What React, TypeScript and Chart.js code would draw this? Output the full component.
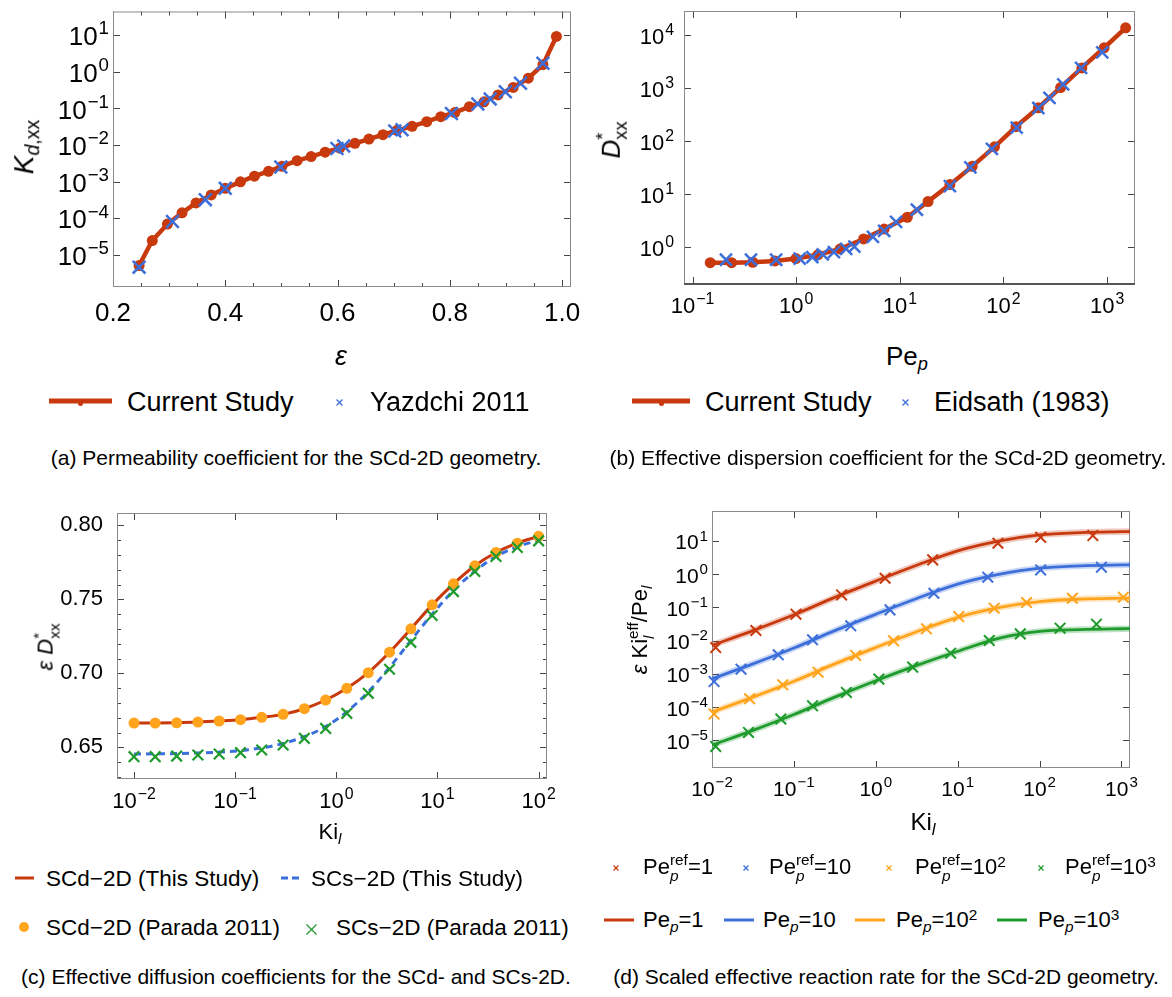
import React, { useEffect, useRef } from 'react';
import { Chart, registerables } from 'chart.js';
Chart.register(...registerables);

const FONT = "'Liberation Sans', Arial, Helvetica, sans-serif";
const RED = '#c8390e';
const BLUE = '#3d6fda';
const ORANGE = '#ffa41c';
const GREEN = '#1f9a2c';
const FRAME = '#8a8a8a';
const TICKC = '#444444';
const TEXT = '#000000';

// ---------------- (a) permeability ----------------
const A_EPS = [0.2465, 0.270, 0.297, 0.323, 0.348, 0.375, 0.400, 0.427, 0.452, 0.477, 0.501, 0.528, 0.553, 0.578, 0.604, 0.631, 0.656, 0.681, 0.706, 0.733, 0.759, 0.784, 0.809, 0.835, 0.861, 0.886, 0.913, 0.940, 0.966, 0.990];
const A_K = [5.1e-6, 2.45e-5, 6.9e-5, 1.4e-4, 2.6e-4, 4.3e-4, 6.5e-4, 9.8e-4, 1.4e-3, 1.9e-3, 2.6e-3, 3.7e-3, 4.8e-3, 6.3e-3, 8.1e-3, 1.1e-2, 1.44e-2, 1.9e-2, 2.5e-2, 3.2e-2, 4.3e-2, 5.9e-2, 7.6e-2, 0.11, 0.15, 0.23, 0.37, 0.66, 1.55, 9.1];
const A_REF_EPS = [0.2465, 0.306, 0.3645, 0.400, 0.499, 0.599, 0.611, 0.702, 0.715, 0.803, 0.850, 0.872, 0.899, 0.926, 0.966];
const A_REF_K = [4.6e-6, 8.1e-5, 3.2e-4, 6.5e-4, 2.5e-3, 8.0e-3, 9.3e-3, 2.4e-2, 2.6e-2, 7.2e-2, 0.13, 0.18, 0.28, 0.48, 1.7];
const A_X_TICKS = [0.2, 0.4, 0.6, 0.8, 1.0];
const A_X_LABELS = ['0.2', '0.4', '0.6', '0.8', '1.0'];
const A_Y_EXP = [-5, -4, -3, -2, -1, 0, 1];

// ---------------- (b) dispersion ----------------
const B_PE = [0.148, 0.238, 0.381, 0.625, 0.993, 1.62, 2.65, 4.47, 7.05, 11.8, 18.7, 30.4, 49.9, 81.9, 132, 217, 356, 570, 936, 1510];
const B_D = [0.51, 0.51, 0.52, 0.55, 0.61, 0.72, 0.93, 1.43, 2.2, 3.68, 7.3, 15.2, 33.6, 78.5, 189, 430, 1035, 2430, 5830, 13900];
const B_REF_PE = [0.21, 0.366, 0.64, 1.08, 1.43, 1.8, 2.31, 3.03, 3.64, 5.5, 7.05, 9.2, 14.6, 30.4, 47.9, 77.3, 134, 217, 278, 377, 561, 898];
const B_REF_D = [0.58, 0.58, 0.58, 0.61, 0.65, 0.73, 0.81, 0.93, 1.03, 1.57, 2.03, 3.02, 5.1, 14.2, 32.2, 72, 181, 425, 658, 1190, 2430, 4790];
const B_X_EXP = [-1, 0, 1, 2, 3];
const B_Y_EXP = [0, 1, 2, 3, 4];

// ---------------- (c) diffusion ----------------
const C_KI = [0.01, 0.0162, 0.0264, 0.0428, 0.0695, 0.113, 0.183, 0.298, 0.483, 0.785, 1.27, 2.07, 3.36, 5.46, 8.86, 14.4, 23.4, 37.9, 61.6, 100];
const C_SCD = [0.6664, 0.6665, 0.6667, 0.6671, 0.6678, 0.6687, 0.6703, 0.6723, 0.6761, 0.6820, 0.6899, 0.7005, 0.7143, 0.7301, 0.7463, 0.7605, 0.7727, 0.7817, 0.7880, 0.7926];
const C_SCD_REF = [0.6664, 0.6664, 0.6666, 0.6671, 0.6678, 0.6687, 0.6703, 0.6723, 0.6761, 0.6820, 0.6899, 0.7005, 0.7143, 0.7301, 0.7463, 0.7605, 0.7727, 0.7817, 0.7880, 0.7926];
const C_SCS = [0.6455, 0.6456, 0.6458, 0.6462, 0.6468, 0.6478, 0.6496, 0.6526, 0.6572, 0.6640, 0.6740, 0.6875, 0.7040, 0.7222, 0.7400, 0.7560, 0.7690, 0.7790, 0.7855, 0.7900];
const C_SCS_REF = [0.6437, 0.6437, 0.6441, 0.6448, 0.6455, 0.6464, 0.6482, 0.6516, 0.6561, 0.6628, 0.6730, 0.6865, 0.7028, 0.7210, 0.7391, 0.7553, 0.7689, 0.7790, 0.7851, 0.7896];
const C_X_EXP = [-2, -1, 0, 1, 2];
const C_Y_TICKS = [0.65, 0.70, 0.75, 0.80];
const C_Y_LABELS = ['0.65', '0.70', '0.75', '0.80'];

// ---------------- (d) reaction rate ----------------
const D_KI = [0.01, 0.0316, 0.1, 0.316, 1, 3.16, 10, 31.6, 100, 316, 1000, 1270];
const D_L1 = [0.0072, 0.020, 0.060, 0.20, 0.62, 1.85, 5.0, 9.8, 15.1, 17.8, 19.0, 19.2];
const D_L10 = [7.1e-4, 2.0e-3, 6.0e-3, 0.020, 0.062, 0.185, 0.50, 0.98, 1.52, 1.78, 1.90, 1.92];
const D_L100 = [7.1e-5, 2.0e-4, 6.0e-4, 2.0e-3, 6.2e-3, 0.0185, 0.050, 0.098, 0.150, 0.178, 0.190, 0.192];
const D_L1000 = [7.2e-6, 2.0e-5, 6.0e-5, 2.0e-4, 6.2e-4, 1.8e-3, 4.8e-3, 0.0118, 0.019, 0.0215, 0.0228, 0.023];
const D_X1 = [0.0111, 0.0344, 0.106, 0.382, 1.30, 4.95, 31, 103, 447];
const D_Y1 = [0.0062, 0.0202, 0.0625, 0.238, 0.755, 2.69, 8.5, 12.9, 14.5];
const D_X10 = [0.0106, 0.0226, 0.0644, 0.169, 0.495, 1.49, 5.12, 23.3, 103, 569];
const D_Y10 = [5.9e-4, 1.39e-3, 3.75e-3, 0.0106, 0.0279, 0.0843, 0.267, 0.81, 1.34, 1.62];
const D_X100 = [0.0106, 0.0288, 0.0731, 0.197, 0.569, 1.65, 4.15, 10.3, 27.9, 69.3, 251, 1054];
const D_Y100 = [6.2e-5, 1.79e-4, 4.7e-4, 1.13e-3, 3.6e-3, 9.9e-3, 0.0227, 0.0532, 0.095, 0.14, 0.189, 0.203];
const D_X1000 = [0.0111, 0.0279, 0.0693, 0.169, 0.438, 1.09, 2.82, 8.2, 24.3, 58.1, 178, 495];
const D_Y1000 = [6.6e-6, 1.74e-5, 4.4e-5, 1.1e-4, 2.77e-4, 6.97e-4, 1.6e-3, 4.2e-3, 0.0101, 0.016, 0.0238, 0.0313];
const D_X_EXP = [-2, -1, 0, 1, 2, 3];
const D_Y_EXP = [-5, -4, -3, -2, -1, 0, 1];

// ---------------- helpers ----------------
const decades = (exps: number[]) => exps.map((e) => Math.pow(10, e));
const expText = (e: number) => String(e).replace('-', '−');
const pts = (xs: number[], ys: number[]) => xs.map((x, i) => ({ x, y: ys[i] }));

const frameTicksPlugin = {
  id: 'frameTicks',
  beforeDatasetsDraw(chart: any, _a: any, o: any) {
    const { ctx, chartArea: a } = chart;
    const xs = chart.scales.x;
    const ys = chart.scales.y;
    ctx.save();
    ctx.lineWidth = 1;
    ctx.strokeStyle = TICKC;
    const tick = (len: number, vals: number[], horiz: boolean) => {
      ctx.beginPath();
      for (const v of vals) {
        if (horiz) {
          const p = Math.round(xs.getPixelForValue(v)) + 0.5;
          if (p < a.left || p > a.right) continue;
          ctx.moveTo(p, a.bottom);
          ctx.lineTo(p, a.bottom - len);
          ctx.moveTo(p, a.top);
          ctx.lineTo(p, a.top + len);
        } else {
          const p = Math.round(ys.getPixelForValue(v)) + 0.5;
          if (p < a.top || p > a.bottom) continue;
          ctx.moveTo(a.left, p);
          ctx.lineTo(a.left + len, p);
          ctx.moveTo(a.right, p);
          ctx.lineTo(a.right - len, p);
        }
      }
      ctx.stroke();
    };
    tick(o.major, xs.ticks.map((t: any) => t.value), true);
    tick(o.major, ys.ticks.map((t: any) => t.value), false);
    tick(o.minor, o.xMinor || [], true);
    tick(o.minor, o.yMinor || [], false);
    ctx.strokeStyle = FRAME;
    ctx.strokeRect(a.left + 0.5, a.top + 0.5, a.right - a.left - 1, a.bottom - a.top - 1);
    if (o.bottomWidth) {
      ctx.lineWidth = o.bottomWidth;
      ctx.strokeStyle = '#555';
      ctx.beginPath();
      ctx.moveTo(a.left, a.bottom);
      ctx.lineTo(a.right, a.bottom);
      ctx.stroke();
    }
    ctx.restore();
  },
};

// draws "10" with a raised exponent for log-axis ticks, at the scale's tick positions
const powLabelsPlugin = {
  id: 'powLabels',
  afterDraw(chart: any, _a: any, o: any) {
    const { ctx, chartArea: a } = chart;
    ctx.save();
    ctx.fillStyle = TEXT;
    ctx.textAlign = 'left';
    ctx.textBaseline = 'alphabetic';
    for (const key of ['x', 'y']) {
      const spec = o[key];
      if (!spec) continue;
      const sc = chart.scales[key];
      const F = spec.size;
      const f = F * 0.72;
      sc.ticks.forEach((t: any, i: number) => {
        const base = '10';
        const sup = expText(spec.exps[i]);
        ctx.font = `${F}px ${FONT}`;
        const wb = ctx.measureText(base).width;
        ctx.font = `${f}px ${FONT}`;
        const ws = ctx.measureText(sup).width;
        const total = wb + 1 + ws;
        let x0: number;
        let yb: number;
        if (key === 'x') {
          const px = sc.getPixelForValue(t.value);
          x0 = px - total / 2;
          yb = a.bottom + spec.off + F * 0.358;
        } else {
          const py = sc.getPixelForValue(t.value);
          x0 = a.left - spec.pad - total;
          yb = py + F * 0.358 + 1;
        }
        ctx.font = `${F}px ${FONT}`;
        ctx.fillText(base, x0, yb);
        ctx.font = `${f}px ${FONT}`;
        ctx.fillText(sup, x0 + wb + 1, yb - F * 0.42);
      });
    }
    ctx.restore();
  },
};

type AxisSpec = { type: 'linear' | 'logarithmic'; min: number; max: number; ticks: number[]; labels?: string[]; size: number; pad: number; pow?: boolean };

function axis(s: AxisSpec, dir: 'x' | 'y', size: number) {
  return {
    type: s.type,
    min: s.min,
    max: s.max,
    position: dir === 'x' ? 'bottom' : 'left',
    grid: { display: false },
    border: { display: false },
    afterBuildTicks: (sc: any) => {
      sc.ticks = s.ticks.map((v) => ({ value: v }));
    },
    afterFit: (sc: any) => {
      if (dir === 'x') sc.height = size;
      else sc.width = size;
      sc.paddingLeft = 0;
      sc.paddingRight = 0;
      sc.paddingTop = 0;
      sc.paddingBottom = 0;
    },
    ticks: {
      display: !s.pow,
      autoSkip: false,
      maxRotation: 0,
      minRotation: 0,
      padding: s.pad,
      color: TEXT,
      font: { family: FONT, size: s.size },
      callback: (_v: any, i: number) => (s.labels ? s.labels[i] : ''),
    },
  };
}

function makeConfig(datasets: any[], x: AxisSpec, y: AxisSpec, yW: number, xH: number, padding: any, frame: any, pow: any) {
  return {
    type: 'line',
    data: { datasets },
    options: {
      animation: false,
      responsive: false,
      events: [],
      layout: { padding },
      plugins: { legend: { display: false }, tooltip: { enabled: false }, frameTicks: frame, powLabels: pow },
      scales: { x: axis(x, 'x', xH), y: axis(y, 'y', yW) },
    },
    plugins: [frameTicksPlugin, powLabelsPlugin],
  } as any;
}

const marks = (data: any[], color: string, style: string, r: number, bw: number) => ({
  data,
  showLine: false,
  pointStyle: style,
  pointRadius: r,
  pointBorderColor: color,
  pointBackgroundColor: color,
  pointBorderWidth: bw,
  borderColor: color,
  backgroundColor: color,
  clip: false,
});
const curve = (data: any[], color: string, width: number, extra: any = {}) => ({
  data,
  borderColor: color,
  backgroundColor: color,
  borderWidth: width,
  pointRadius: 0,
  fill: false,
  ...extra,
});

// ---------------- configs ----------------
function configA() {
  const minor: number[] = [];
  for (let k = 5; k < 20; k++) if (k % 4 !== 0) minor.push(k * 0.05);
  return makeConfig(
    [
      marks(pts(A_REF_EPS, A_REF_K), BLUE, 'crossRot', 9, 2.5),
      curve(pts(A_EPS, A_K), RED, 4.5, { pointRadius: 5.5, pointBackgroundColor: RED, pointBorderColor: RED, pointBorderWidth: 0, clip: false }),
    ],
    { type: 'linear', min: 0.2, max: 1.016, ticks: A_X_TICKS, labels: A_X_LABELS, size: 26, pad: 3 },
    { type: 'logarithmic', min: 1.32e-6, max: 43.7, ticks: decades(A_Y_EXP), size: 26, pad: 4, pow: true },
    113, 53, { top: 5, right: 29, left: 0, bottom: 0 },
    { major: 7, minor: 4, xMinor: minor },
    { y: { exps: A_Y_EXP, size: 26, pad: 4 } }
  );
}

function configB() {
  return makeConfig(
    [
      marks(pts(B_REF_PE, B_REF_D), BLUE, 'crossRot', 8.5, 2.5),
      curve(pts(B_PE, B_D), RED, 4.5, { pointRadius: 5.5, pointBackgroundColor: RED, pointBorderColor: RED, pointBorderWidth: 0, clip: false }),
    ],
    { type: 'logarithmic', min: 0.0826, max: 1858, ticks: decades(B_X_EXP), size: 22, pad: 3, pow: true },
    { type: 'logarithmic', min: 0.202, max: 28840, ticks: decades(B_Y_EXP), size: 22, pad: 4, pow: true },
    94, 56, { top: 5, right: 37, left: 0, bottom: 0 },
    { major: 7, minor: 4, bottomWidth: 2 },
    { x: { exps: B_X_EXP, size: 22, off: 21 }, y: { exps: B_Y_EXP, size: 22, pad: 10 } }
  );
}

function configC() {
  const yMinor: number[] = [];
  for (let k = 63; k <= 80; k++) if (k % 5 !== 0) yMinor.push(k / 100);
  return makeConfig(
    [
      marks(pts(C_KI, C_SCS_REF), GREEN, 'crossRot', 7.5, 2.2),
      marks(pts(C_KI, C_SCD_REF), ORANGE, 'circle', 5.5, 0),
      curve(pts(C_KI, C_SCS), '#3a6fdc', 3, { borderDash: [7, 5], cubicInterpolationMode: 'monotone' }),
      curve(pts(C_KI, C_SCD), RED, 3, { cubicInterpolationMode: 'monotone' }),
    ],
    { type: 'logarithmic', min: 0.00679, max: 121, ticks: decades(C_X_EXP), size: 22, pad: 3, pow: true },
    { type: 'linear', min: 0.6286, max: 0.8084, ticks: C_Y_TICKS, labels: C_Y_LABELS, size: 22, pad: 6 },
    117, 41, { top: 33, right: 43, left: 0, bottom: 0 },
    { major: 7, minor: 4, yMinor },
    { x: { exps: C_X_EXP, size: 22, off: 21 } }
  );
}

function configD() {
  const halo = (c: string) => c + '45';
  return makeConfig(
    [
      marks(pts(D_X1, D_Y1), RED, 'crossRot', 7.5, 2),
      marks(pts(D_X10, D_Y10), BLUE, 'crossRot', 7.5, 2),
      marks(pts(D_X100, D_Y100), ORANGE, 'crossRot', 7.5, 2),
      marks(pts(D_X1000, D_Y1000), GREEN, 'crossRot', 7.5, 2),
      curve(pts(D_KI, D_L1), RED, 2.8, { cubicInterpolationMode: 'monotone' }),
      curve(pts(D_KI, D_L10), BLUE, 2.8, { cubicInterpolationMode: 'monotone' }),
      curve(pts(D_KI, D_L100), ORANGE, 2.8, { cubicInterpolationMode: 'monotone' }),
      curve(pts(D_KI, D_L1000), GREEN, 2.8, { cubicInterpolationMode: 'monotone' }),
      curve(pts(D_KI, D_L1), halo(RED), 6.5, { cubicInterpolationMode: 'monotone' }),
      curve(pts(D_KI, D_L10), halo(BLUE), 6.5, { cubicInterpolationMode: 'monotone' }),
      curve(pts(D_KI, D_L100), halo(ORANGE), 6.5, { cubicInterpolationMode: 'monotone' }),
      curve(pts(D_KI, D_L1000), halo(GREEN), 6.5, { cubicInterpolationMode: 'monotone' }),
    ],
    { type: 'logarithmic', min: 0.01, max: 1270, ticks: decades(D_X_EXP), size: 21, pad: 2, pow: true },
    { type: 'logarithmic', min: 1.48e-6, max: 79.4, ticks: decades(D_Y_EXP), size: 21, pad: 4, pow: true },
    122, 42, { top: 31, right: 42, left: 0, bottom: 0 },
    { major: 7, minor: 4 },
    { x: { exps: D_X_EXP, size: 21, off: 20 }, y: { exps: D_Y_EXP, size: 21, pad: 4 } }
  );
}

// ---------------- components ----------------
function ChartBox({ make, left, top, width, height }: { make: () => any; left: number; top: number; width: number; height: number }) {
  const ref = useRef<HTMLCanvasElement>(null);
  useEffect(() => {
    const chart = new Chart(ref.current as HTMLCanvasElement, make());
    return () => chart.destroy();
  }, []);
  return (
    <div style={{ position: 'absolute', left, top, width, height }}>
      <canvas ref={ref} width={width} height={height} style={{ width, height, display: 'block' }} />
    </div>
  );
}

const T = ({ x, y, size, rot, children, anchor = 'center' }: any) => (
  <div
    style={{
      position: 'absolute',
      left: x,
      top: y,
      transform: `translate(${anchor === 'left' ? '0' : '-50%'},-50%)${rot ? ' rotate(-90deg)' : ''}`,
      fontSize: size,
      whiteSpace: 'nowrap',
      lineHeight: 1.2,
      color: TEXT,
    }}
  >
    {children}
  </div>
);
const Sub = ({ children }: any) => <span style={{ fontSize: '0.7em', position: 'relative', top: '0.3em' }}>{children}</span>;
const Sup = ({ children }: any) => <span style={{ fontSize: '0.7em', position: 'relative', top: '-0.45em' }}>{children}</span>;
const SupSub = ({ sup, sub }: any) => (
  <span style={{ display: 'inline-block', verticalAlign: 'middle', fontSize: '0.7em', lineHeight: 1, textAlign: 'left', position: 'relative', top: '-0.05em' }}>
    <span style={{ display: 'block' }}>{sup}</span>
    <span style={{ display: 'block' }}>{sub}</span>
  </span>
);
const XIcon = ({ x, y, color, s = 7 }: any) => (
  <svg style={{ position: 'absolute', left: x - s / 2, top: y - s / 2 }} width={s} height={s}>
    <line x1={0.5} y1={0.5} x2={s - 0.5} y2={s - 0.5} stroke={color} strokeWidth={1.3} />
    <line x1={s - 0.5} y1={0.5} x2={0.5} y2={s - 0.5} stroke={color} strokeWidth={1.3} />
  </svg>
);
const LineIcon = ({ x1, x2, y, color, h = 3, dash }: any) => (
  <svg style={{ position: 'absolute', left: x1, top: y - 4 }} width={x2 - x1} height={8}>
    <line x1={0} y1={4} x2={x2 - x1} y2={4} stroke={color} strokeWidth={h} strokeDasharray={dash} />
  </svg>
);
const Dot = ({ x, y, color, r }: any) => (
  <div style={{ position: 'absolute', left: x - r, top: y - r, width: 2 * r, height: 2 * r, borderRadius: '50%', background: color }} />
);

const PeRef = ({ v }: any) => (
  <>
    Pe<SupSub sup="ref" sub={<i>p</i>} />={v}
  </>
);
const PeP = ({ v }: any) => (
  <>
    Pe<Sub><i>p</i></Sub>={v}
  </>
);

export default function App() {
  return (
    <div style={{ position: 'absolute', left: 0, top: 0, width: 1172, height: 997, background: '#fff', overflow: 'hidden', fontFamily: FONT, color: TEXT }}>
      <ChartBox make={configA} left={0} top={0} width={600} height={340} />
      <ChartBox make={configB} left={590} top={0} width={582} height={340} />
      <ChartBox make={configC} left={0} top={480} width={590} height={340} />
      <ChartBox make={configD} left={590} top={480} width={582} height={330} />

      {/* axis titles */}
      <T x={24} y={147} size={28} rot>
        <i>K</i><Sub><i>d</i>,xx</Sub>
      </T>
      <T x={341} y={356} size={27}><i>ε</i></T>
      <T x={613} y={140} size={26} rot>
        <i>D</i><SupSub sup="*" sub="xx" />
      </T>
      <T x={907} y={357} size={26}>
        Pe<Sub><i>p</i></Sub>
      </T>
      <T x={47} y={647} size={22} rot>
        <i>ε</i> <i>D</i><SupSub sup="*" sub="xx" />
      </T>
      <T x={330} y={832} size={22}>
        Ki<Sub><i>l</i></Sub>
      </T>
      <T x={641} y={630} size={22} rot>
        <i>ε</i> Ki<SupSub sup="eff" sub={<i>l</i>} />/Pe<Sub><i>l</i></Sub>
      </T>
      <T x={923} y={822} size={24}>
        Ki<Sub><i>l</i></Sub>
      </T>

      {/* legend a */}
      <LineIcon x1={49} x2={112} y={401} color={RED} h={5} />
      <Dot x={80.5} y={403} color={RED} r={2.5} />
      <T x={127} y={402} size={27} anchor="left">Current Study</T>
      <XIcon x={339} y={402} color={BLUE} />
      <T x={370} y={402} size={27} anchor="left">Yazdchi 2011</T>
      {/* legend b */}
      <LineIcon x1={632} x2={690} y={401} color={RED} h={5} />
      <Dot x={661} y={403} color={RED} r={2.5} />
      <T x={705} y={402} size={27} anchor="left">Current Study</T>
      <XIcon x={905} y={402} color={BLUE} />
      <T x={934} y={402} size={27} anchor="left">Eidsath (1983)</T>

      {/* captions a, b */}
      <T x={296} y={458} size={21}>(a) Permeability coefficient for the SCd-2D geometry.</T>
      <T x={888} y={458} size={21}>(b) Effective dispersion coefficient for the SCd-2D geometry.</T>

      {/* legend c */}
      <LineIcon x1={15} x2={34} y={878} color={RED} h={3} />
      <T x={46} y={878} size={22.5} anchor="left">SCd−2D (This Study)</T>
      <LineIcon x1={281} x2={299} y={878} color="#3a6fdc" h={3} dash="7 4" />
      <T x={311} y={878} size={22.5} anchor="left">SCs−2D (This Study)</T>
      <Dot x={24} y={927} color={ORANGE} r={5} />
      <T x={46} y={927} size={22.5} anchor="left">SCd−2D (Parada 2011)</T>
      <XIcon x={311} y={929} color={GREEN} s={11} />
      <T x={336} y={927} size={22.5} anchor="left">SCs−2D (Parada 2011)</T>

      {/* legend d */}
      <XIcon x={616} y={868} color={RED} s={6} />
      <T x={643} y={868} size={22} anchor="left"><PeRef v="1" /></T>
      <XIcon x={746} y={868} color={BLUE} s={6} />
      <T x={769} y={868} size={22} anchor="left"><PeRef v="10" /></T>
      <XIcon x={889} y={868} color={ORANGE} s={6} />
      <T x={915} y={868} size={22} anchor="left"><PeRef v={<>10<Sup>2</Sup></>} /></T>
      <XIcon x={1041} y={868} color={GREEN} s={6} />
      <T x={1065} y={868} size={22} anchor="left"><PeRef v={<>10<Sup>3</Sup></>} /></T>

      <LineIcon x1={604} x2={634} y={920} color={RED} h={3} />
      <T x={643} y={920} size={22} anchor="left"><PeP v="1" /></T>
      <LineIcon x1={724} x2={754} y={920} color={BLUE} h={3} />
      <T x={763} y={920} size={22} anchor="left"><PeP v="10" /></T>
      <LineIcon x1={855} x2={885} y={920} color={ORANGE} h={3} />
      <T x={896} y={920} size={22} anchor="left"><PeP v={<>10<Sup>2</Sup></>} /></T>
      <LineIcon x1={997} x2={1027} y={920} color={GREEN} h={3} />
      <T x={1038} y={920} size={22} anchor="left"><PeP v={<>10<Sup>3</Sup></>} /></T>

      {/* captions c, d */}
      <T x={296} y={977} size={21}>(c) Effective diffusion coefficients for the SCd- and SCs-2D.</T>
      <T x={886} y={977} size={21}>(d) Scaled effective reaction rate for the SCd-2D geometry.</T>
    </div>
  );
}
